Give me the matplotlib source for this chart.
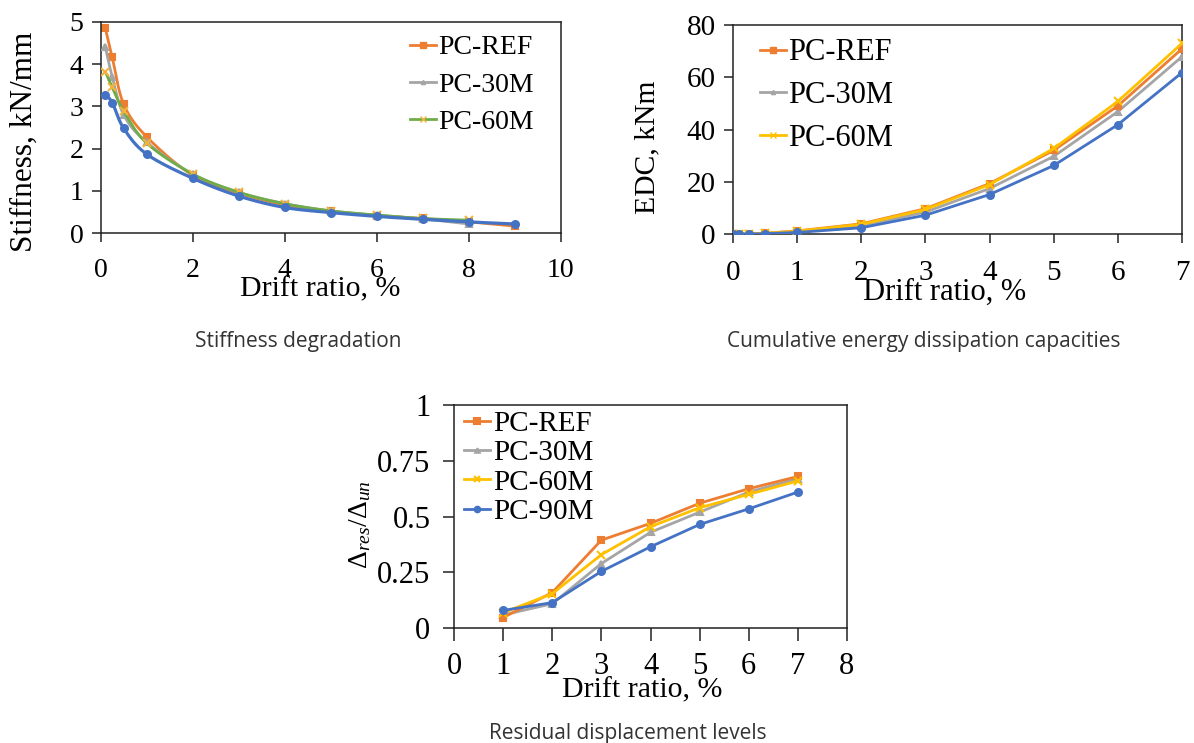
import numpy as np
import matplotlib
matplotlib.use('Agg')
import matplotlib.pyplot as plt
from matplotlib.lines import Line2D

plt.rcParams['font.family'] = ['Liberation Serif', 'DejaVu Serif']
plt.rcParams['mathtext.fontset'] = 'custom'
plt.rcParams['mathtext.rm'] = 'Liberation Serif'
plt.rcParams['mathtext.it'] = 'Liberation Serif:italic'

# stiffness degradation
drift_k = [0.1, 0.25, 0.5, 1, 2, 3, 4, 5, 6, 7, 8, 9]
k_ref = [4.85, 4.16, 3.05, 2.28, 1.37, 0.95, 0.67, 0.52, 0.42, 0.35, 0.27, 0.17]
k_30m = [4.41, 3.70, 2.80, 2.15, 1.40, 0.97, 0.70, 0.53, 0.43, 0.34, 0.22]
k_60m = [3.82, 3.45, 2.89, 2.13, 1.40, 0.97, 0.70, 0.53, 0.43, 0.35, 0.31]
k_90m = [3.27, 3.09, 2.48, 1.87, 1.30, 0.88, 0.61, 0.49, 0.40, 0.33, 0.27, 0.22]

# cumulative energy dissipation
drift_e = [0, 0.1, 0.25, 0.5, 1, 2, 3, 4, 5, 6, 7]
e_ref = [0, 0.05, 0.15, 0.4, 1.3, 4.0, 9.8, 19.4, 32.1, 49.1, 70.9]
e_30m = [0, 0.04, 0.12, 0.3, 0.9, 3.2, 8.5, 17.5, 29.8, 46.9, 67.9]
e_60m = [0, 0.05, 0.15, 0.4, 1.2, 3.8, 9.5, 19.0, 32.8, 50.8, 73.0]
e_90m = [0, 0.03, 0.10, 0.25, 0.7, 2.5, 7.3, 15.2, 26.3, 41.9, 61.8]

# residual displacement ratio
drift_r = [1, 2, 3, 4, 5, 6, 7]
r_ref = [0.048, 0.160, 0.395, 0.470, 0.560, 0.625, 0.680]
r_30m = [0.060, 0.110, 0.290, 0.430, 0.520, 0.610, 0.670]
r_60m = [0.070, 0.155, 0.330, 0.455, 0.540, 0.600, 0.660]
r_90m = [0.080, 0.115, 0.255, 0.365, 0.465, 0.535, 0.610]

labels = ['PC-REF', 'PC-30M', 'PC-60M', 'PC-90M']
colors = ['#ED7D31', '#A5A5A5', '#FFC000', '#4472C4']
markers = ['s', '^', 'x', 'o']
msizes = [5, 4, 6, 5]
zorders = [4, 3, 5, 6]

W, H = 1194, 743


def rect(l, r, t, b):
    return [l / W, 1 - b / H, (r - l) / W, (b - t) / H]


def fpos(x, y):
    return x / W, 1 - y / H


def smooth(x, y, sx, sy, n=20):
    # bezier smoothing like a spreadsheet "smoothed line"
    p = np.column_stack([np.asarray(x) / sx, np.asarray(y) / sy])
    out = [p[0]]
    for i in range(len(p) - 1):
        p0 = p[i - 1] if i > 0 else p[i]
        p3 = p[i + 2] if i + 2 < len(p) else p[i + 1]
        c1 = p[i] + (p[i + 1] - p0) / 6
        c2 = p[i + 1] - (p3 - p[i]) / 6
        t = np.linspace(0, 1, n)[1:, None]
        seg = ((1 - t) ** 3 * p[i] + 3 * (1 - t) ** 2 * t * c1
               + 3 * (1 - t) * t ** 2 * c2 + t ** 3 * p[i + 1])
        out.extend(seg)
    out = np.array(out)
    return out[:, 0] * sx, out[:, 1] * sy


def style(ax, size):
    for s in ax.spines.values():
        s.set_linewidth(1.1)
        s.set_color('#222222')
    ax.tick_params(direction='out', length=6.5, width=1.1, labelsize=size,
                   top=False, right=False, colors='#222222', labelcolor='black')


cap_kw = dict(ha='center', va='center', fontsize=15, family='Open Sans',
              color='#333333')

fig = plt.figure(figsize=(W / 100, H / 100), dpi=100)

# stiffness
ax1 = fig.add_axes(rect(100.7, 560.7, 21.7, 233.3))
line_cols1 = ['#ED7D31', '#A5A5A5', '#70AD47', '#4472C4']
mark_cols1 = ['#ED7D31', '#A5A5A5', '#F2B33D', '#4472C4']
for i, ys in enumerate([k_ref, k_30m, k_60m, k_90m]):
    xs = drift_k[:len(ys)]
    cx, cy = smooth(xs, ys, 10, 5 * 458 / 211.6)
    ax1.plot(cx, cy, color=line_cols1[i], lw=2.0 if i < 3 else 2.3, zorder=2 + i)
    ax1.plot(xs, ys, ls='none', marker=markers[i], ms=msizes[i],
             color=mark_cols1[i], mec=mark_cols1[i], mew=1.5, zorder=2 + i)
ax1.set_xlim(0, 10)
ax1.set_ylim(0, 5)
ax1.set_xticks([0, 2, 4, 6, 8, 10])
ax1.set_yticks([0, 1, 2, 3, 4, 5])
style(ax1, 20)
ax1.tick_params(axis='x', pad=11)
ax1.tick_params(axis='y', pad=6)
h1 = [Line2D([], [], color=line_cols1[i], marker=markers[i], ms=msizes[i] - 1,
             mec=mark_cols1[i], mfc=mark_cols1[i], lw=2) for i in range(3)]
fig.legend(h1, labels[:3], loc='upper left', bbox_to_anchor=fpos(396, 21),
           frameon=False, fontsize=20, handlelength=0.95, handletextpad=0.08,
           labelspacing=0.43, borderpad=0)
fig.text(*fpos(24, 142), 'Stiffness, kN/mm', rotation=90, ha='center',
         va='center', fontsize=22.5)
fig.text(*fpos(320, 289), 'Drift ratio, %', ha='center', va='center', fontsize=21.5)
fig.text(*fpos(298, 341), 'Stiffness degradation', **cap_kw)

# energy dissipation
ax2 = fig.add_axes(rect(733, 1182, 25, 234.3))
for i, ys in enumerate([e_ref, e_30m, e_60m, e_90m]):
    ax2.plot(drift_e, ys, color=colors[i], lw=2.0, marker=markers[i],
             ms=msizes[i], mew=1.5, zorder=zorders[i])
ax2.set_xlim(0, 7)
ax2.set_ylim(0, 80)
ax2.set_xticks(range(8))
ax2.set_yticks([0, 20, 40, 60, 80])
style(ax2, 21)
ax2.tick_params(axis='x', pad=12)
ax2.tick_params(axis='y', pad=6)
h2 = [Line2D([], [], color=colors[i], marker=markers[i], ms=msizes[i] - 1, lw=2)
      for i in range(3)]
fig.legend(h2, labels[:3], loc='upper left', bbox_to_anchor=fpos(745, 23),
           frameon=False, fontsize=22, handlelength=0.85, handletextpad=0.05,
           labelspacing=0.45, borderpad=0)
fig.text(*fpos(647, 147), 'EDC, kNm', rotation=90, ha='center', va='center',
         fontsize=21.3)
fig.text(*fpos(945, 292), 'Drift ratio, %', ha='center', va='center', fontsize=22)
fig.text(*fpos(924, 341), 'Cumulative energy dissipation capacities', **cap_kw)

# residual displacement
ax3 = fig.add_axes(rect(454, 847, 405, 628.3))
for i, ys in enumerate([r_ref, r_30m, r_60m, r_90m]):
    ax3.plot(drift_r, ys, color=colors[i], lw=2.0, marker=markers[i],
             ms=msizes[i], mew=1.5, label=labels[i], zorder=zorders[i])
ax3.set_xlim(0, 8)
ax3.set_ylim(0, 1)
ax3.set_xticks(range(9))
ax3.set_yticks([0, 0.25, 0.5, 0.75, 1])
ax3.set_yticklabels(['0', '0.25', '0.5', '0.75', '1'])
style(ax3, 22)
ax3.tick_params(axis='x', length=9, pad=8)
ax3.tick_params(axis='y', length=8, pad=9)
ax3.legend(loc='upper left', bbox_to_anchor=fpos(449, 396),
           bbox_transform=fig.transFigure, frameon=False, fontsize=21,
           handlelength=0.9, handletextpad=0.1, labelspacing=0.1,
           borderpad=0, markerscale=0.8)
fig.text(*fpos(360, 525), r'$\mathit{\Delta}_{res}/\mathit{\Delta}_{un}$',
         rotation=90, ha='center', va='center', fontsize=20)
fig.text(*fpos(642, 690), 'Drift ratio, %', ha='center', va='center', fontsize=21.5)
fig.text(*fpos(628, 733), 'Residual displacement levels', **cap_kw)

fig.savefig('out.png', dpi=100)
